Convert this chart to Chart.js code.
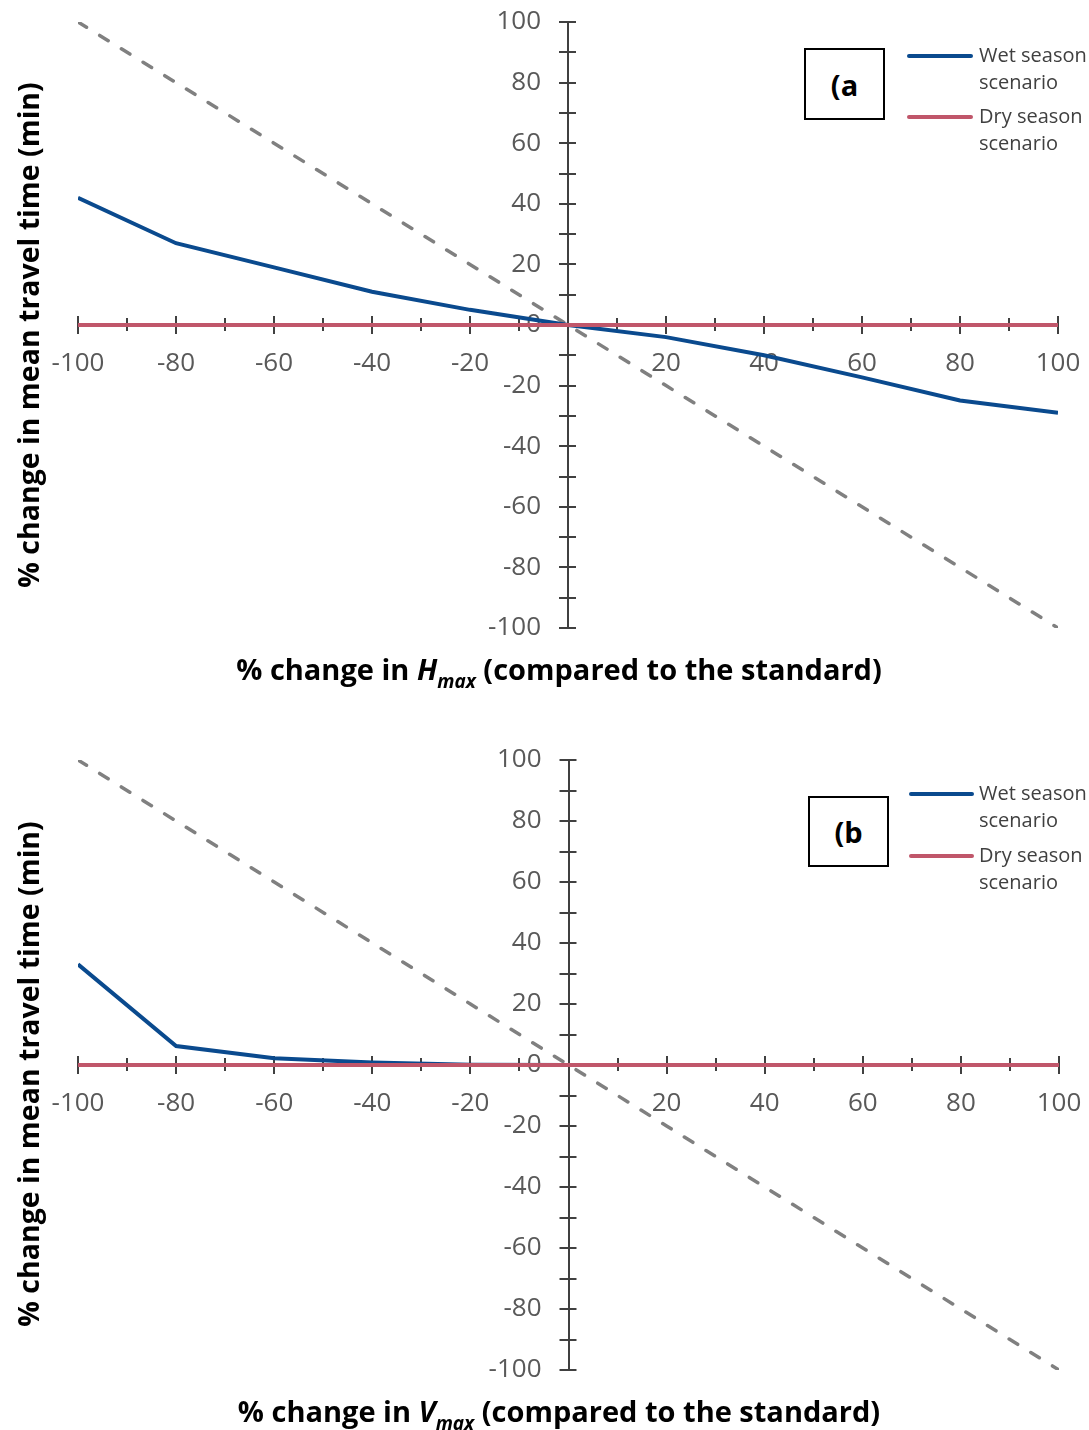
<!DOCTYPE html>
<html>
<head>
<meta charset="utf-8">
<script src="https://cdn.jsdelivr.net/npm/chart.js@4/dist/chart.umd.min.js"></script>
<style>
  body { margin: 0; background: #fff; }
  #wrap { position: relative; width: 1089px; height: 1430px; overflow: hidden; font-family: 'Open Sans', sans-serif; }
  canvas { position: absolute; left: 0; }
  .ytitle { position: absolute; font-weight: bold; font-size: 28.5px; color: #000; white-space: nowrap;
            transform: translate(-50%, -50%) rotate(-90deg); line-height: 1; }
  .xtitle { position: absolute; font-weight: bold; font-size: 29px; color: #000; white-space: nowrap;
            transform: translate(-50%, -50%); line-height: 1; }
  .xtitle sub { font-size: 19px; vertical-align: -8px; line-height: 0; }
  .tag { position: absolute; border: 2px solid #000; box-sizing: border-box; display: flex;
         align-items: center; justify-content: center; font-weight: bold; font-size: 29px; color: #000; background: #fff; }
</style>
</head>
<body>
<div id="wrap">
  <canvas id="cA" width="1089" height="700" style="top:0"></canvas>
  <canvas id="cB" width="1089" height="730" style="top:700px"></canvas>
  <div class="ytitle" style="left:28px; top:335px;">% change in mean travel time (min)</div>
  <div class="ytitle" style="left:28px; top:1074px;">% change in mean travel time (min)</div>
  <div class="xtitle" style="left:559px; top:668px;">% change in <i>H<sub>max</sub></i> (compared to the standard)</div>
  <div class="xtitle" style="left:559px; top:1410px;">% change in <i>V<sub>max</sub></i> (compared to the standard)</div>
  <div class="tag" style="left:804px; top:48px; width:81px; height:72px;">(a</div>
  <div class="tag" style="left:808px; top:796px; width:81px; height:71px;">(b</div>
</div>
<script>
// ---- data ----
const pctChange = [-100, -80, -60, -40, -20, 0, 20, 40, 60, 80, 100];
const seriesNames = ['Wet season scenario', 'Dry season scenario'];
const wetHmax = [42, 27, 19, 11, 5, 0, -4, -10, -17.3, -24.9, -29];
const dryHmax = [0, 0, 0, 0, 0, 0, 0, 0, 0, 0, 0];
const wetVmax = [33, 6.2, 2.2, 0.8, 0.1, 0, 0, 0, 0, 0, 0];
const dryVmax = [0, 0, 0, 0, 0, 0, 0, 0, 0, 0, 0];
const refLine = [100, 80, 60, 40, 20, 0, -20, -40, -60, -80, -100];
const axisMin = -100, axisMax = 100, tickStep = 10, labelStep = 20;

const BLUE = '#0a4a8e';
const RED = '#c0566a';
const GREY = '#808080';
const AXIS = '#404040';

function pts(ys) { return pctChange.map((x, i) => ({ x: x, y: ys[i] })); }
function noPad(scale) { scale.paddingTop = 0; scale.paddingBottom = 0; scale.paddingLeft = 0; scale.paddingRight = 0; }

const crossTicks = {
  id: 'crossTicks',
  beforeDatasetsDraw(chart) {
    const { ctx, scales: { x, y } } = chart;
    const x0 = x.getPixelForValue(0), y0 = y.getPixelForValue(0);
    ctx.save();
    ctx.strokeStyle = AXIS;
    ctx.lineWidth = 2;
    x.ticks.forEach(t => {
      if (t.value === 0) return;
      const px = Math.round(x.getPixelForValue(t.value));
      const major = t.value % labelStep === 0;
      const up = major ? 9 : 7, dn = major ? 9 : 6;
      ctx.beginPath(); ctx.moveTo(px, y0 - up); ctx.lineTo(px, y0 + dn); ctx.stroke();
    });
    y.ticks.forEach(t => {
      const py = Math.round(y.getPixelForValue(t.value));
      ctx.beginPath(); ctx.moveTo(x0 - 9, py); ctx.lineTo(x0 + 8, py); ctx.stroke();
    });
    ctx.restore();
  }
};

const sideLegend = {
  id: 'sideLegend',
  afterDraw(chart, args, opts) {
    const ctx = chart.ctx;
    ctx.save();
    ctx.font = '20px "Open Sans"';
    ctx.fillStyle = '#404040';
    ctx.textBaseline = 'middle';
    ctx.textAlign = 'left';
    opts.items.forEach(it => {
      const ds = chart.data.datasets[it.index];
      ctx.strokeStyle = ds.borderColor;
      ctx.lineWidth = 4;
      ctx.lineCap = 'round';
      ctx.beginPath(); ctx.moveTo(opts.x1, it.y); ctx.lineTo(opts.x2, it.y); ctx.stroke();
      const words = ds.label.split(' ');
      const lines = [words.slice(0, -1).join(' '), words[words.length - 1]];
      lines.forEach((l, k) => ctx.fillText(l, opts.tx, it.y + k * 27));
    });
    ctx.restore();
  }
};

function makeChart(id, wet, dry, padding, legendOpts) {
  return new Chart(document.getElementById(id), {
    type: 'line',
    data: {
      datasets: [
        { label: seriesNames[1], data: pts(dry), borderColor: RED, borderWidth: 4, pointRadius: 0, tension: 0 },
        { label: seriesNames[0], data: pts(wet), borderColor: BLUE, borderWidth: 4, pointRadius: 0, tension: 0 },
        { label: '1:1', data: pts(refLine), borderColor: GREY, borderWidth: 3.5, borderDash: [10, 15.5],
          borderCapStyle: 'round', pointRadius: 0, tension: 0 }
      ]
    },
    options: {
      responsive: false,
      animation: false,
      layout: { padding: padding },
      plugins: { legend: { display: false }, tooltip: { enabled: false }, sideLegend: legendOpts },
      scales: {
        x: {
          type: 'linear', min: axisMin, max: axisMax,
          position: 'center',
          afterFit: noPad,
          grid: { drawOnChartArea: false, drawTicks: false, color: 'transparent' },
          border: { display: true, color: AXIS, width: 2 },
          ticks: {
            stepSize: tickStep, autoSkip: false, maxRotation: 0, padding: 23,
            color: '#595959', font: { family: 'Open Sans', size: 26 },
            callback: v => (v % labelStep === 0 && v !== 0) ? String(v) : ''
          }
        },
        y: {
          type: 'linear', min: axisMin, max: axisMax,
          position: 'center',
          afterFit: noPad,
          grid: { drawOnChartArea: false, drawTicks: false, color: 'transparent' },
          border: { display: true, color: AXIS, width: 2 },
          ticks: {
            stepSize: tickStep, autoSkip: false, padding: 27,
            color: '#595959', font: { family: 'Open Sans', size: 26 },
            callback: v => (v % labelStep === 0) ? String(v) : ''
          }
        }
      }
    },
    plugins: [crossTicks, sideLegend]
  });
}

makeChart('cA', wetHmax, dryHmax, { left: 78, right: 31, top: 22, bottom: 72 },
  { x1: 909, x2: 971, tx: 979, items: [{ index: 1, y: 56 }, { index: 0, y: 117 }] });
makeChart('cB', wetVmax, dryVmax, { left: 78, right: 30, top: 60, bottom: 60 },
  { x1: 911, x2: 972, tx: 979, items: [{ index: 1, y: 94 }, { index: 0, y: 156 }] });
</script>
</body>
</html>
